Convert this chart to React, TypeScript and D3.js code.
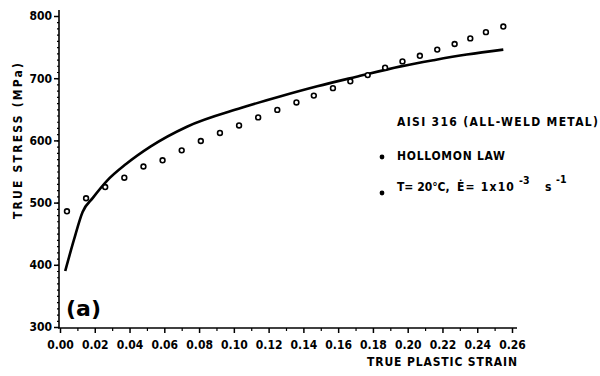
import React, { useEffect, useRef } from "react";
import * as d3 from "d3";

// Hollomon law fit (solid line)
const lawStrain = [0.003, 0.008, 0.013, 0.019, 0.027, 0.038, 0.052, 0.073, 0.104, 0.127, 0.148, 0.17, 0.196, 0.215, 0.234, 0.255];
const lawStress = [390, 440, 485, 508, 535, 562, 590, 622, 652, 671, 687, 702, 719, 729, 738, 746];

// measured points at T = 20 C (open circles)
const testStrain = [0.004, 0.015, 0.026, 0.037, 0.048, 0.059, 0.07, 0.081, 0.092, 0.103, 0.114, 0.125, 0.136, 0.146, 0.157, 0.167, 0.177, 0.187, 0.197, 0.207, 0.217, 0.227, 0.236, 0.245, 0.255];
const testStress = [486, 507, 525, 540, 558, 568, 584, 599, 612, 624, 637, 649, 661, 672, 684, 695, 705, 717, 727, 736, 746, 755, 764, 774, 783];

const xTicks = [0, 0.02, 0.04, 0.06, 0.08, 0.1, 0.12, 0.14, 0.16, 0.18, 0.2, 0.22, 0.24, 0.26];
const xTickLabels = ["0.00", "0.02", "0.04", "0.06", "0.08", "0.10", "0.12", "0.14", "0.16", "0.18", "0.20", "0.22", "0.24", "0.26"];
const yTicks = [300, 400, 500, 600, 700, 800];

const FONT = "'DejaVu Sans Condensed', 'DejaVu Sans', sans-serif";

export default function App() {
  const ref = useRef<SVGSVGElement>(null);
  useEffect(() => {
    const node = ref.current;
    if (!node) return;
    const w = 600, h = 376;
    const svg = d3.select(node);
    svg.attr("viewBox", `0 0 ${w} ${h}`).selectAll("*").remove();
    svg.append("rect").attr("width", w).attr("height", h).attr("fill", "#fff");

    const x = d3.scaleLinear().domain([0, 0.26]).range([60, 512]);
    const y = d3.scaleLinear().domain([300, 800]).range([327, 16]);
    const g = svg.append("g").attr("font-family", FONT).attr("font-stretch", "condensed");

    // y axis
    g.append("line").attr("x1", 59).attr("x2", 59).attr("y1", 10).attr("y2", 328)
      .attr("stroke", "#000").attr("stroke-width", 1.6);
    const ya = g.append("g").attr("transform", "translate(59,0)")
      .call(d3.axisLeft(y).tickValues(yTicks).tickSize(5).tickPadding(2));
    ya.select(".domain").remove();
    ya.selectAll("line").attr("stroke-width", 1.5);
    ya.selectAll("text").attr("font-family", FONT).attr("font-weight", "bold").attr("font-size", 12).attr("fill", "#000");
    const yMinor = g.append("g").attr("transform", "translate(59,0)")
      .call(d3.axisLeft(y).tickValues(d3.range(310, 800, 10)).tickSize(2).tickFormat(() => ""));
    yMinor.select(".domain").remove();
    yMinor.selectAll("line").attr("stroke-width", 1.2);

    // x axis
    g.append("line").attr("x1", 58).attr("x2", 517).attr("y1", 328).attr("y2", 328)
      .attr("stroke", "#000").attr("stroke-width", 1.6);
    const xa = g.append("g").attr("transform", "translate(0,328)")
      .call(d3.axisBottom(x).tickValues(xTicks).tickSize(5).tickPadding(7)
        .tickFormat((d, i) => xTickLabels[i]));
    xa.select(".domain").remove();
    xa.selectAll("line").attr("stroke-width", 1.5);
    xa.selectAll("text").attr("font-family", FONT).attr("font-weight", "bold").attr("font-size", 12).attr("fill", "#000");
    const xMinor = g.append("g").attr("transform", "translate(0,328)")
      .call(d3.axisBottom(x).tickValues(xTicks.slice(0, -1).map((v) => v + 0.01)).tickSize(3).tickFormat(() => ""));
    xMinor.select(".domain").remove();
    xMinor.selectAll("line").attr("stroke-width", 1.2);

    // axis titles
    g.append("text").attr("transform", "translate(22,141) rotate(-90)").attr("text-anchor", "middle")
      .attr("font-weight", "bold").attr("font-size", 12)
      .attr("textLength", 156).attr("lengthAdjust", "spacing").text("TRUE STRESS (MPa)");
    g.append("text").attr("x", 367).attr("y", 366)
      .attr("font-weight", "bold").attr("font-size", 12)
      .attr("textLength", 150).attr("lengthAdjust", "spacing").text("TRUE PLASTIC STRAIN");

    // Hollomon law curve
    const lawData = lawStrain.map((s, i) => [s, lawStress[i]] as [number, number]);
    g.append("path").datum(lawData)
      .attr("d", d3.line<[number, number]>().x((d) => x(d[0])).y((d) => y(d[1])).curve(d3.curveMonotoneX))
      .attr("fill", "none").attr("stroke", "#000").attr("stroke-width", 2.6).attr("stroke-linejoin", "round");

    // measured points
    g.selectAll("circle.pt").data(testStrain).enter().append("circle")
      .attr("class", "pt")
      .attr("cx", (d) => x(d))
      .attr("cy", (d, i) => y(testStress[i]))
      .attr("r", 2.4).attr("fill", "#fff").attr("stroke", "#000").attr("stroke-width", 1.6);

    // panel tag
    g.append("text").attr("x", 66).attr("y", 316).attr("font-family", "'DejaVu Sans', sans-serif")
      .attr("font-stretch", "normal").attr("font-size", 22).attr("font-weight", "bold").text("(a)");

    // legend block
    const lg = g.append("g").attr("font-weight", "bold").attr("font-size", 12).attr("fill", "#000");
    lg.append("text").attr("x", 397).attr("y", 126)
      .attr("textLength", 201).attr("lengthAdjust", "spacing").text("AISI 316  (ALL-WELD METAL)");
    lg.append("circle").attr("cx", 382).attr("cy", 157).attr("r", 2.4);
    lg.append("text").attr("x", 397).attr("y", 160)
      .attr("textLength", 108).attr("lengthAdjust", "spacing").text("HOLLOMON LAW");
    lg.append("circle").attr("cx", 382).attr("cy", 193).attr("r", 2.4);
    const t = lg.append("text").attr("y", 191);
    t.append("tspan").attr("x", 397).text("T= 20°C,");
    t.append("tspan").attr("x", 457).attr("letter-spacing", 1.2).text("Ė= 1x10");
    t.append("tspan").attr("x", 519).attr("y", 184).attr("letter-spacing", 0).attr("font-size", 10.5).text("-3");
    t.append("tspan").attr("x", 545).attr("y", 191).text("s");
    t.append("tspan").attr("x", 556).attr("y", 183).attr("font-size", 10.5).text("-1");
  }, []);
  return <svg ref={ref} width={600} height={376} style={{ position: "absolute", left: 0, top: 0 }} />;
}
